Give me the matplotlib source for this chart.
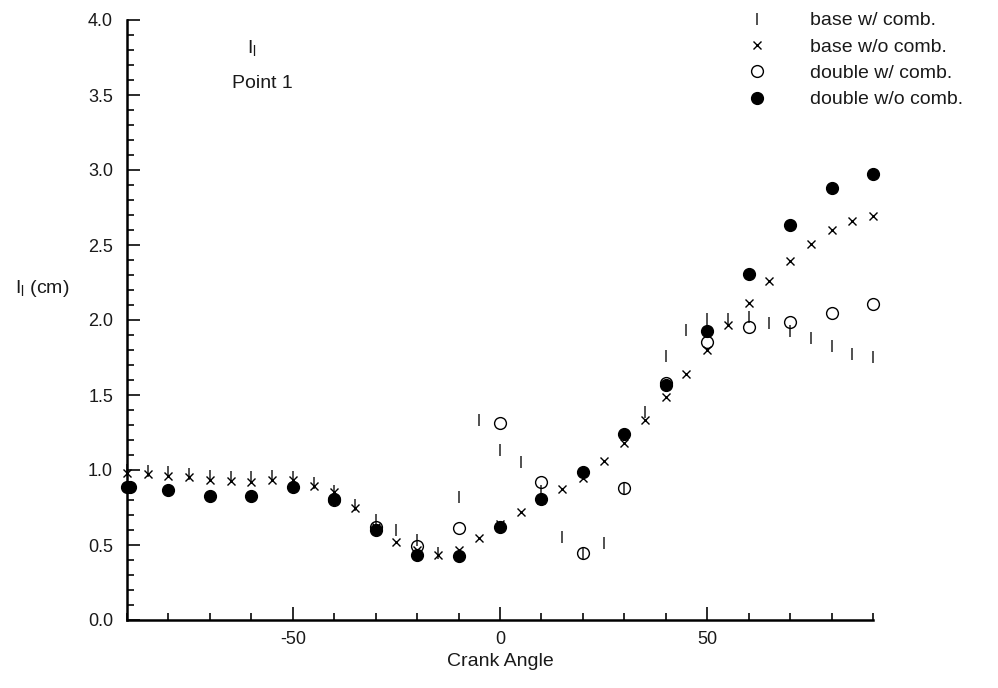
import matplotlib
matplotlib.use("Agg")
import matplotlib.pyplot as plt
from matplotlib.ticker import MultipleLocator, FixedLocator, FormatStrFormatter

plt.rcParams['font.family'] = ['Liberation Sans', 'DejaVu Sans']
plt.rcParams['axes.unicode_minus'] = False

# base w/ comb.  (vertical bar marker)
base_comb_x = [-90, -85, -80, -75, -70, -65, -60, -55, -50, -45, -40, -35, -30, -25, -20, -15,
               -10, -5, 0, 5, 10, 15, 20, 25, 30, 35, 40, 45, 50, 55, 60, 65, 70, 75, 80, 85, 90]
base_comb_y = [1.00, 0.995, 0.985, 0.975, 0.96, 0.955, 0.955, 0.96, 0.955, 0.915, 0.86, 0.77, 0.667,
               0.60, 0.533, 0.45, 0.82, 1.333, 1.133, 1.056, 0.86, 0.556, 0.45, 0.513, 0.88, 1.39,
               1.76, 1.933, 2.01, 2.01, 2.02, 1.98, 1.93, 1.88, 1.827, 1.773, 1.753]

# base w/o comb.  (x marker)
base_nocomb_x = base_comb_x
base_nocomb_y = [0.98, 0.973, 0.96, 0.953, 0.933, 0.927, 0.922, 0.933, 0.933, 0.893, 0.853, 0.749,
                 0.62, 0.522, 0.47, 0.433, 0.467, 0.547, 0.64, 0.722, 0.80, 0.873, 0.95, 1.06, 1.18,
                 1.333, 1.489, 1.64, 1.80, 1.967, 2.111, 2.26, 2.396, 2.507, 2.60, 2.66, 2.693]

# double w/ comb.  (open circles)
double_comb_x = [-40, -30, -20, -10, 0, 10, 20, 30, 40, 50, 60, 70, 80, 90]
double_comb_y = [0.80, 0.62, 0.493, 0.613, 1.313, 0.918, 0.447, 0.882, 1.58, 1.853, 1.953, 1.987,
                 2.047, 2.107]

# double w/o comb.  (filled circles)
double_nocomb_x = [-90, -89.3, -80, -70, -60, -50, -40, -30, -20, -10, 0, 10, 20, 30, 40, 50, 60,
                   70, 80, 90]
double_nocomb_y = [0.887, 0.887, 0.867, 0.827, 0.827, 0.885, 0.807, 0.60, 0.433, 0.427, 0.623,
                   0.807, 0.99, 1.243, 1.567, 1.927, 2.307, 2.633, 2.88, 2.973]

labels = ['base w/ comb.', 'base w/o comb.', 'double w/ comb.', 'double w/o comb.']

txt = '#1a1a1a'

fig = plt.figure(figsize=(9.98, 6.88), dpi=100)
ax = fig.add_axes([127 / 998, 68 / 688, 746 / 998, 600 / 688])

h1, = ax.plot(base_comb_x, base_comb_y, linestyle='none', marker='|', ms=9, mew=1.2,
              color='#333333', clip_on=False)
h2, = ax.plot(base_nocomb_x, base_nocomb_y, linestyle='none', marker='x', ms=5.5, mew=1.0,
              color='black', clip_on=False)
h3, = ax.plot(double_comb_x, double_comb_y, linestyle='none', marker='o', ms=8.5, mew=1.0,
              mfc='none', mec='black', clip_on=False)
h4, = ax.plot(double_nocomb_x, double_nocomb_y, linestyle='none', marker='o', ms=8.5,
              color='black', clip_on=False)

ax.set_xlim(-90, 90)
ax.set_ylim(0, 4.0)

ax.spines['top'].set_visible(False)
ax.spines['right'].set_visible(False)
ax.spines['left'].set_linewidth(1.8)
ax.spines['bottom'].set_linewidth(1.8)

ax.xaxis.set_major_locator(FixedLocator([-50, 0, 50]))
ax.xaxis.set_minor_locator(MultipleLocator(10))
ax.yaxis.set_major_locator(MultipleLocator(0.5))
ax.yaxis.set_minor_locator(MultipleLocator(0.1))
ax.yaxis.set_major_formatter(FormatStrFormatter('%.1f'))

ax.tick_params(which='major', direction='in', length=9.5, width=1.3, labelsize=13,
               colors=txt, pad=8)
ax.tick_params(which='minor', direction='in', length=5, width=1.3, colors=txt)
ax.tick_params(axis='y', which='major', pad=10)

ax.text(-59.8, 3.81, r'$\mathregular{I_l}$', fontsize=14, ha='center', va='center', color=txt)
ax.text(-57.4, 3.58, 'Point 1', fontsize=14, ha='center', va='center', color=txt)

fig.text(15 / 998, 1 - 288 / 688, r'$\mathregular{I_l}$ (cm)', fontsize=14, ha='left',
         va='center', color=txt)
fig.text(500 / 998, 1 - 662 / 688, 'Crank Angle', fontsize=14, ha='center', va='center',
         color=txt)

fig.legend([h1, h2, h3, h4], labels, loc='upper left',
           bbox_to_anchor=(730 / 998, 1 - 4 / 688), frameon=False, fontsize=14,
           handlelength=2.0, handletextpad=1.7, labelspacing=0.45, labelcolor=txt,
           borderaxespad=0)

fig.savefig('out.png', dpi=100)
